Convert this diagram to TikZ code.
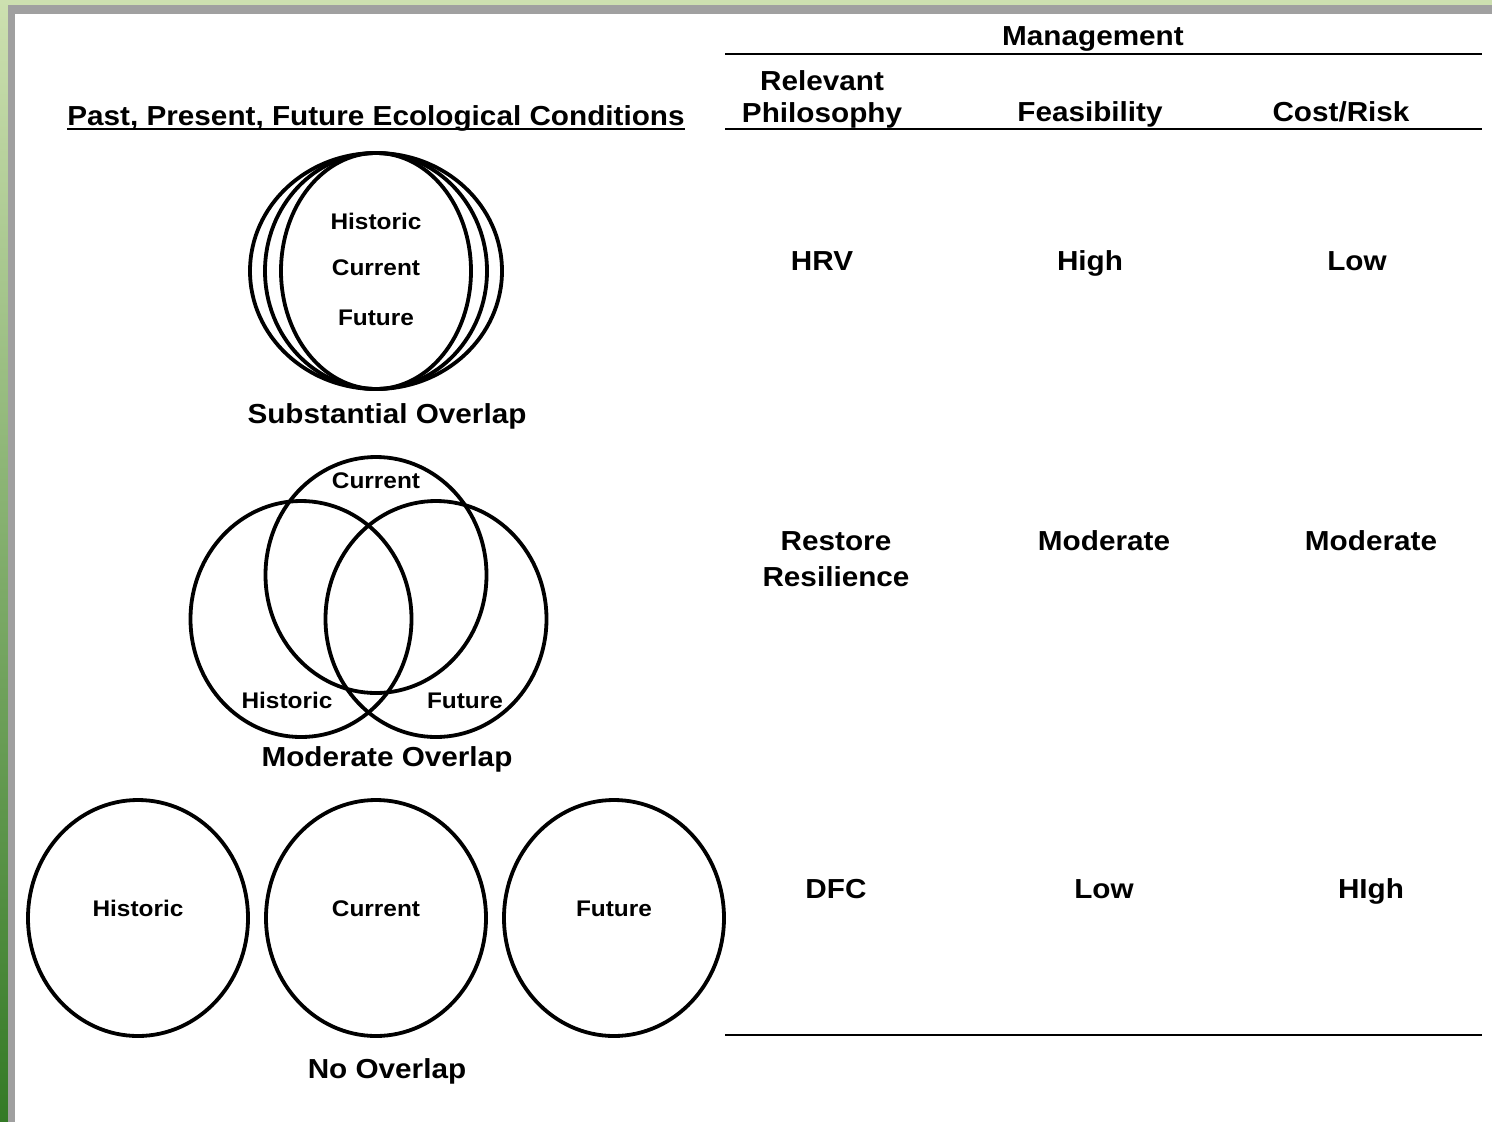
\documentclass[tikz,border=0pt]{standalone}
\usepackage{fontspec}
\setmainfont{Liberation Sans}[FakeStretch=1.08]
\usetikzlibrary{shapes.geometric}
\definecolor{lightgr}{RGB}{205,224,176}
\definecolor{darkgr}{RGB}{52,122,38}
\definecolor{framegray}{RGB}{160,160,160}
\begin{document}
\begin{tikzpicture}[x=1pt,y=-1pt,
  big/.style={inner sep=0pt, anchor=base, font=\bfseries\fontsize{27.5}{36}\selectfont},
  small/.style={inner sep=0pt, anchor=base, font=\bfseries\fontsize{22.6}{26}\selectfont},
  ring/.style={draw=black, line width=3.8pt, ellipse, inner sep=0pt},
  rule/.style={draw=black, line width=2.6pt}]
% background and frame
\useasboundingbox (0,0) rectangle (1492,1122);
\shade[top color=lightgr, bottom color=darkgr] (0,0) rectangle (8,1122);
\fill[lightgr] (8,0) rectangle (1492,5);
\fill[framegray] (8,5) rectangle (1492,1122);
\fill[white] (15,14) rectangle (1492,1122);
% title
\node[big] (title) at (376,125) {Past, Present, Future Ecological Conditions};
\draw[line width=2.6pt] ([yshift=-4pt]title.base west) -- ([yshift=-4pt]title.base east);
% substantial overlap
\node[ring, minimum width=252pt, minimum height=236pt] (so1) at (376,271) {};
\node[ring, minimum width=222pt, minimum height=236pt] (so2) at (376,271) {};
\node[ring, minimum width=190pt, minimum height=236pt] (so3) at (376,271) {};
\node[small] (soh) at (376,229) {Historic};
\node[small] (soc) at (376,275) {Current};
\node[small] (sof) at (376,325) {Future};
\node[big] (solab) at (387,423) {Substantial Overlap};
% moderate overlap
\node[ring, minimum width=221pt, minimum height=236pt] (moc) at (376,575) {};
\node[ring, minimum width=221pt, minimum height=236pt] (moh) at (301,619) {};
\node[ring, minimum width=221pt, minimum height=236pt] (mof) at (436,619) {};
\node[small] (mocl) at (376,488) {Current};
\node[small] (mohl) at (287,708) {Historic};
\node[small] (mofl) at (465,708) {Future};
\node[big] (molab) at (387,766) {Moderate Overlap};
% no overlap
\node[ring, minimum width=220pt, minimum height=236pt] (noh) at (138,918) {};
\node[ring, minimum width=220pt, minimum height=236pt] (noc) at (376,918) {};
\node[ring, minimum width=220pt, minimum height=236pt] (nof) at (614,918) {};
\node[small] (nohl) at (138,916) {Historic};
\node[small] (nocl) at (376,916) {Current};
\node[small] (nofl) at (614,916) {Future};
\node[big] (nolab) at (387,1078) {No Overlap};
% table
\coordinate (l1a) at (725,54);  \coordinate (l1b) at (1482,54);
\coordinate (l2a) at (725,129); \coordinate (l2b) at (1482,129);
\coordinate (l3a) at (725,1035); \coordinate (l3b) at (1482,1035);
\draw[rule] (l1a) -- (l1b);
\draw[rule] (l2a) -- (l2b);
\draw[rule] (l3a) -- (l3b);
\node[big] (mgmt) at (1093,45) {Management};
\node[big] (rel) at (822,90) {Relevant};
\node[big] (phil) at (822,122) {Philosophy};
\node[big] (feas) at (1090,121) {Feasibility};
\node[big] (cost) at (1341,121) {Cost/Risk};
\node[big] (hrv) at (822,270) {HRV};
\node[big] (f1) at (1090,270) {High};
\node[big] (c1) at (1357,270) {Low};
\node[big] (rest) at (836,550) {Restore};
\node[big] (resil) at (836,586) {Resilience};
\node[big] (f2) at (1104,550) {Moderate};
\node[big] (c2) at (1371,550) {Moderate};
\node[big] (dfc) at (836,898) {DFC};
\node[big] (f3) at (1104,898) {Low};
\node[big] (c3) at (1371,898) {HIgh};
\end{tikzpicture}
\end{document}
